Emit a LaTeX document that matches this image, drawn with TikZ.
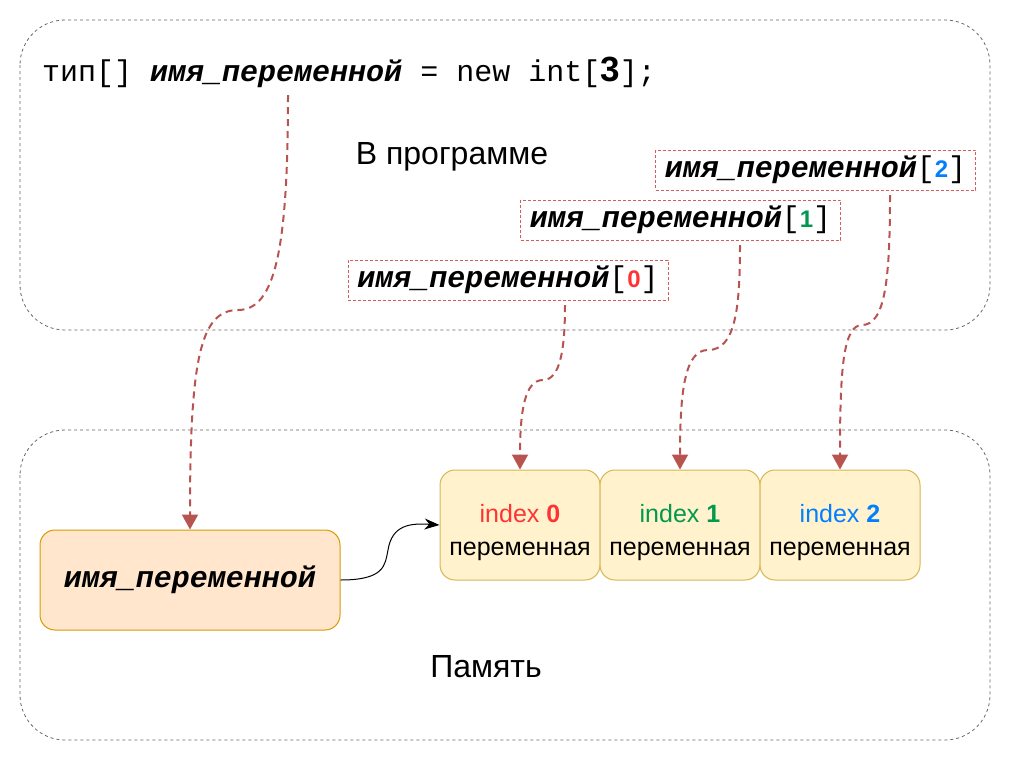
\documentclass[tikz,border=0pt]{standalone}
\usepackage{fontspec}
\setmainfont{Liberation Sans}
\setmonofont{Liberation Mono}
\newfontfamily\monobi{Liberation Mono}[UprightFont={* Bold Italic}]
\usetikzlibrary{arrows.meta}
\definecolor{ptrred}{HTML}{B85450}
\definecolor{lblred}{HTML}{D35C5C}
\definecolor{idxred}{HTML}{FF3333}
\definecolor{idxgreen}{HTML}{00994D}
\definecolor{idxblue}{HTML}{007FFF}
\definecolor{varfill}{HTML}{FFE6CC}
\definecolor{vardraw}{HTML}{D79B00}
\definecolor{cellfill}{HTML}{FFF2CC}
\definecolor{celldraw}{HTML}{D6B656}
\definecolor{framegray}{HTML}{666666}
\newcommand{\varname}{{\monobi имя\_переменной}}
\newcommand{\elem}[2]{\varname{\ttfamily[}{\bfseries\fontsize{24}{28}\selectfont\color{#1}#2}{\ttfamily]}}
\begin{document}
\begin{tikzpicture}[x=1pt,y=-1pt,
  frame/.style={draw=framegray,dashed,line width=0.8pt,dash pattern=on 3pt off 3pt,rounded corners=45pt},
  ptrline/.style={draw=ptrred,line width=2pt,dash pattern=on 7pt off 5pt,
    -{Triangle[width=16pt,length=15pt,fill=ptrred]}},
  lblbox/.style={draw=lblred,line width=0.8pt,dash pattern=on 3pt off 2pt,minimum width=320pt,
    minimum height=40pt,inner sep=0pt,font=\fontsize{30}{34}\selectfont},
  cellbox/.style={draw=celldraw,fill=cellfill,line width=1pt,rounded corners=15pt,minimum width=160pt,
    minimum height=110pt,align=center,font=\fontsize{25}{33}\selectfont},
  title/.style={font=\fontsize{32}{36}\selectfont}]
\useasboundingbox (0,0) rectangle (1012,761);
% program and memory frames
\draw[frame] (20,20) rectangle (990,330);
\draw[frame] (20,430) rectangle (990,740);
\node[title] (prog) at (452,157) {В программе};
\node[title] (mem) at (486,667) {Память};

% declaration line
\node[anchor=base west,inner sep=0pt,font=\fontsize{30}{34}\selectfont] (code) at (42,81)
{\ttfamily тип[] \varname{} = new int[{\rmfamily\bfseries\fontsize{35}{35}\selectfont 3}];};

% element references
\node[lblbox] (ref2) at (815.5,170) {\elem{idxblue}{2}};
\node[lblbox] (ref1) at (680.5,220) {\elem{idxgreen}{1}};
\node[lblbox] (ref0) at (508,280) {\elem{idxred}{0}};

% memory
\node[draw=vardraw,fill=varfill,line width=1pt,rounded corners=15pt,minimum width=300pt,
  minimum height=100pt,font=\fontsize{30}{34}\selectfont] (var) at (190,580) {\varname};
\node[cellbox] (cell0) at (520,525) {\rule{0pt}{33pt}{\color{idxred}index \textbf{0}}\\переменная};
\node[cellbox] (cell1) at (680,525) {\rule{0pt}{33pt}{\color{idxgreen}index \textbf{1}}\\переменная};
\node[cellbox] (cell2) at (840,525) {\rule{0pt}{33pt}{\color{idxblue}index \textbf{2}}\\переменная};

\coordinate (declvar) at (288,95);
\coordinate (from0) at (565,305);
\coordinate (from1) at (740,245);
\coordinate (from2) at (890,195);

\draw[ptrline] (declvar) .. controls (288,250) and (275,310) .. (238,310)
  .. controls (200,310) and (190,360) .. (var.north);
\draw[ptrline] (from0) .. controls (565,350) and (560,380) .. (543,380)
  .. controls (525,380) and (520,410) .. (cell0.north);
\draw[ptrline] (from1) .. controls (740,310) and (735,350) .. (708,350)
  .. controls (685,350) and (680,390) .. (cell1.north);
\draw[ptrline] (from2) .. controls (890,280) and (885,325) .. (862,325)
  .. controls (843,325) and (840,370) .. (cell2.north);

\draw[line width=1pt,-{Stealth[length=15pt,width=11pt]}] (var.east)
  .. controls (385,580) and (385,565) .. (388,550)
  .. controls (392,525) and (410,523) .. (cell0.west);
\end{tikzpicture}
\end{document}
